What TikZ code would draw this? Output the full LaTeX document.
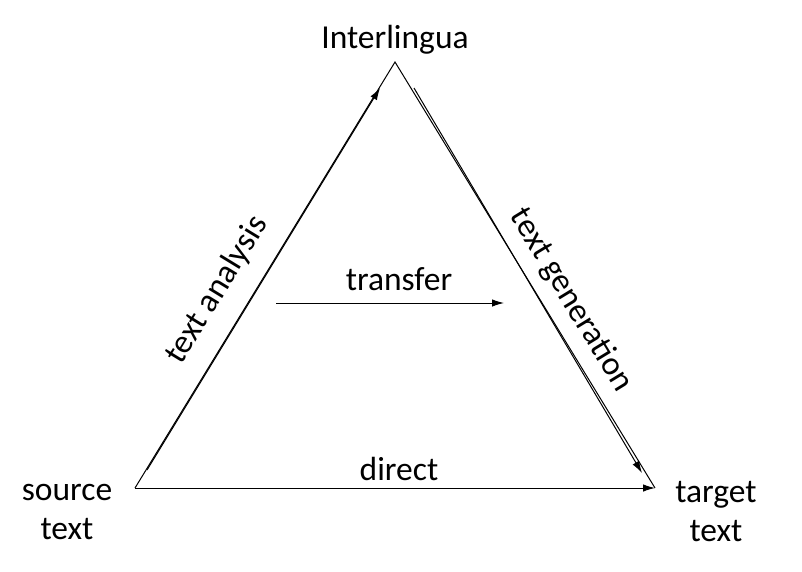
\documentclass[tikz,border=0pt]{standalone}
\usepackage{fontspec}
\setmainfont{Carlito}
\usetikzlibrary{arrows.meta,calc}
\begin{document}
\begin{tikzpicture}[x=1pt,y=-1pt,
  lbl/.style={font=\fontsize{33.5}{39}\selectfont, inner sep=0pt, text=black},
  edge/.style={line width=1pt, black},
  arr/.style={line width=1pt, black, -{Latex[length=12pt,width=7.5pt]}}]
\useasboundingbox (0,0) rectangle (802,571);
% corners
\coordinate (A) at (395,62);
\coordinate (L) at (135,488);
\coordinate (R) at (655,488);
% triangle outline
\draw[edge] (L) -- (A) -- (R);
% arrow endpoints
\coordinate (la1) at (147,470);
\coordinate (la2) at (380,88);
\coordinate (ra1) at (414,88);
\coordinate (ra2) at (642,473);
\coordinate (t1) at (276,303);
\coordinate (t2) at (504,303);
\draw[arr] (la1) -- (la2);
\draw[arr] (ra1) -- (ra2);
\draw[arr] (L) -- (R);
\draw[arr] (t1) -- (t2);
% labels
\node[lbl] (inter) at (395,40) {Interlingua};
\node[lbl, align=center] (src) at (67,512) {source\\text};
\node[lbl, align=center] (tgt) at (716,512) {target\\text};
\node[lbl, anchor=base] (direct) at (399,480) {direct};
\node[lbl, anchor=base] (transfer) at (399,290) {transfer};
\node[lbl, rotate=58.6] (ana) at (217,290) {text analysis};
\node[lbl, rotate=-58.6] (gen) at (571,300) {text generation};
\end{tikzpicture}
\end{document}
